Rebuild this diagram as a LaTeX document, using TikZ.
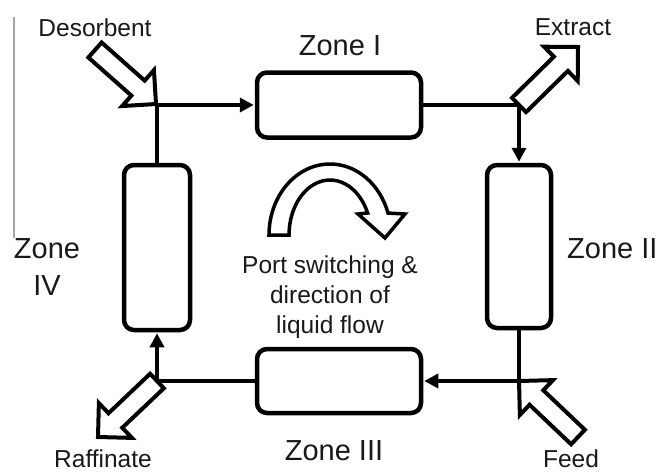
\documentclass[tikz,border=0pt]{standalone}
\usepackage{fontspec}
\setmainfont{Liberation Sans}
\usetikzlibrary{arrows.meta,calc}
\newcommand\blockarr[2]{%
  \path (#1) coordinate (ba-t) (#2) coordinate (ba-h);
  \path ($(ba-h)!24pt!(ba-t)$) coordinate (ba-b);
  \draw[barrow] ($(ba-t)!10pt!90:(ba-h)$) -- ($(ba-b)!10pt!-90:(ba-t)$)
    -- ($(ba-b)!24pt!-90:(ba-t)$) -- (ba-h) -- ($(ba-b)!24pt!90:(ba-t)$)
    -- ($(ba-b)!10pt!90:(ba-t)$) -- ($(ba-t)!10pt!-90:(ba-h)$) -- cycle;
}
\begin{document}
\begin{tikzpicture}[x=1pt,y=-1pt,
  zone/.style={draw, line width=4.5pt, rounded corners=10pt, inner sep=0pt, fill=white},
  flowarr/.style={line width=4.5pt, line join=miter, -{Triangle[length=14pt,width=14pt]}, shorten >=1pt},
  barrow/.style={draw, line width=4pt, fill=white, line join=miter},
  lbl/.style={font=\fontsize{24.5}{30}\selectfont, inner sep=0pt, text=black!90},
  zlbl/.style={font=\fontsize{29}{37}\selectfont, inner sep=0pt, text=black!90}]
\useasboundingbox (0,0) rectangle (660,471);
\fill[white] (0,0) rectangle (660,471);

% left thin line
\draw[gray!70, line width=1.2pt] (14,17) -- (14,238);

% zone columns
\node[zone, minimum width=164pt, minimum height=65pt] (z1) at (339,105) {};
\node[zone, minimum width=64pt, minimum height=163pt] (z2) at (519,246.5) {};
\node[zone, minimum width=164pt, minimum height=64pt] (z3) at (339,381) {};
\node[zone, minimum width=66pt, minimum height=165pt] (z4) at (157,247.5) {};

% junctions
\coordinate (jD) at (z4.north |- z1.west);
\coordinate (jE) at (z2.north |- z1.east);
\coordinate (jF) at (z2.south |- z3.east);
\coordinate (jR) at (z4.south |- z3.west);

% liquid flow
\draw[flowarr] (z4.north) -- (jD) -- (z1.west);
\draw[flowarr] (z1.east) -- (jE) -- (z2.north);
\draw[flowarr] (z2.south) -- (jF) -- (z3.east);
\draw[flowarr] (z3.west) -- (jR) -- (z4.south);

% labels
\node[lbl, anchor=base] (ld) at (95,36) {Desorbent};
\node[lbl, anchor=base] (le) at (573,35) {Extract};
\node[lbl, anchor=base] (lr) at (103,467) {Raffinate};
\node[lbl, anchor=base] (lf) at (571,467) {Feed};

% port block arrows
\coordinate (dT) at (95,50);
\coordinate (dH) at (156,104);
\coordinate (eH) at (578,47);
\coordinate (fT) at (578,437);
\coordinate (rH) at (98,437);
\blockarr{dT}{dH}
\blockarr{jE}{eH}
\blockarr{fT}{jF}
\blockarr{jR}{rH}

% zone labels
\node[zlbl, anchor=base] (l1) at (340,55) {Zone I};
\node[zlbl, anchor=base west] (l2) at (567,258) {Zone II};
\node[zlbl, anchor=base] (l3) at (334,460) {Zone III};
\node[zlbl, anchor=base] (l4a) at (47,258) {Zone};
\node[zlbl, anchor=base] (l4b) at (47,295) {IV};

% curved arrow
\begin{scope}[shift={(330,235)}, y=1pt]
\draw[barrow, line width=3.5pt] (-61,0) arc[start angle=180, end angle=18, x radius=61, y radius=71]
  -- (75,21) -- (55,-3) -- (28,21) -- (37.6,22)
  arc[start angle=23.6, end angle=180, x radius=41, y radius=55] -- cycle;
\end{scope}

% center text
\node[lbl, anchor=base] (c1) at (330,273) {Port switching \&};
\node[lbl, anchor=base] (c2) at (330,303) {direction of};
\node[lbl, anchor=base] (c3) at (330,333) {liquid flow};
\end{tikzpicture}
\end{document}
